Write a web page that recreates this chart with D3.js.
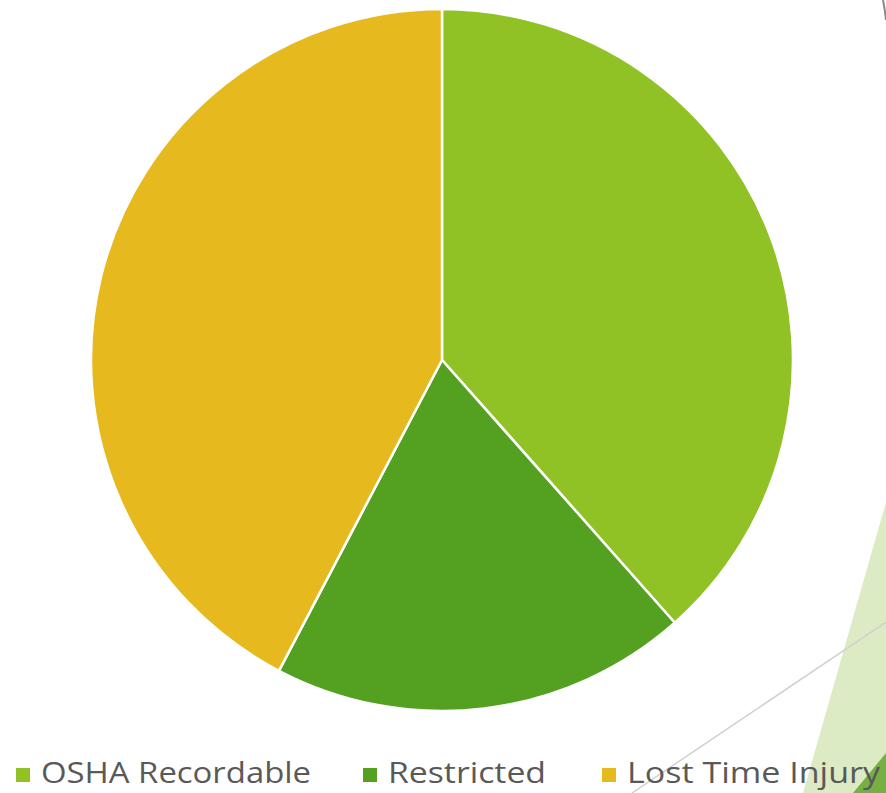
<!DOCTYPE html>
<html>
<head>
<meta charset="utf-8">
<script src="https://cdn.jsdelivr.net/npm/d3@7"></script>
<style>
  html, body { margin: 0; padding: 0; background: #fff; overflow: hidden; }
  svg { display: block; }
</style>
</head>
<body>
<div id="chart"></div>
<script>
// chart data
var categories = ["OSHA Recordable", "Restricted", "Lost Time Injury"];
var values = [10, 5, 11];
var colors = ["#90C226", "#54A021", "#E6B91E"];

var svgWidth = 886;
var svgHeight = 793;

var svg = d3.select("#chart")
  .append("svg")
  .attr("width", svgWidth)
  .attr("height", svgHeight);

// slide background decorations (behind chart)
var deco = svg.append("g");
deco.append("polygon")
  .attr("points", "886,502 803,793 886,793")
  .attr("fill", "#DDEBC4");
deco.append("line")
  .attr("x1", 886).attr("y1", 622)
  .attr("x2", 632).attr("y2", 793)
  .attr("stroke", "#d0d0d0")
  .attr("stroke-width", 1.5);
deco.append("polygon")
  .attr("points", "886,753 853,793 886,793")
  .attr("fill", "#76B043");
deco.append("path")
  .attr("d", "M883,0 Q885,10 886,20")
  .attr("fill", "none")
  .attr("stroke", "#8a8a8a")
  .attr("stroke-width", 2);

// pie
var cx = 442, cy = 360, radius = 351;

var pie = d3.pie()
  .sort(null)
  .value(d => d.value);

var arc = d3.arc()
  .innerRadius(0)
  .outerRadius(radius);

var data = categories.map((c, i) => ({ name: c, value: values[i], color: colors[i] }));

var pieGroup = svg.append("g")
  .attr("transform", `translate(${cx}, ${cy})`);

pieGroup.selectAll(".slice")
  .data(pie(data))
  .enter()
  .append("path")
  .attr("class", "slice")
  .attr("d", arc)
  .attr("fill", d => d.data.color)
  .attr("stroke", "#fff")
  .attr("stroke-width", 2.5)
  .attr("stroke-linejoin", "round");

// legend
var legendX = [16, 363, 602];
var legendW = [270, 158, 253];
var legendY = 783;

var legend = svg.append("g");

var items = legend.selectAll(".item")
  .data(data)
  .enter()
  .append("g")
  .attr("class", "item")
  .attr("transform", (d, i) => `translate(${legendX[i]}, ${legendY})`);

items.append("rect")
  .attr("x", 0)
  .attr("y", -15)
  .attr("width", 14)
  .attr("height", 14)
  .attr("fill", d => d.color);

items.append("text")
  .attr("x", 25)
  .attr("y", 0)
  .attr("font-family", "'Trebuchet MS', 'Open Sans', sans-serif")
  .attr("font-size", "30px")
  .attr("fill", "#595959")
  .attr("textLength", (d, i) => legendW[i])
  .attr("lengthAdjust", "spacingAndGlyphs")
  .text(d => d.name);
</script>
</body>
</html>
